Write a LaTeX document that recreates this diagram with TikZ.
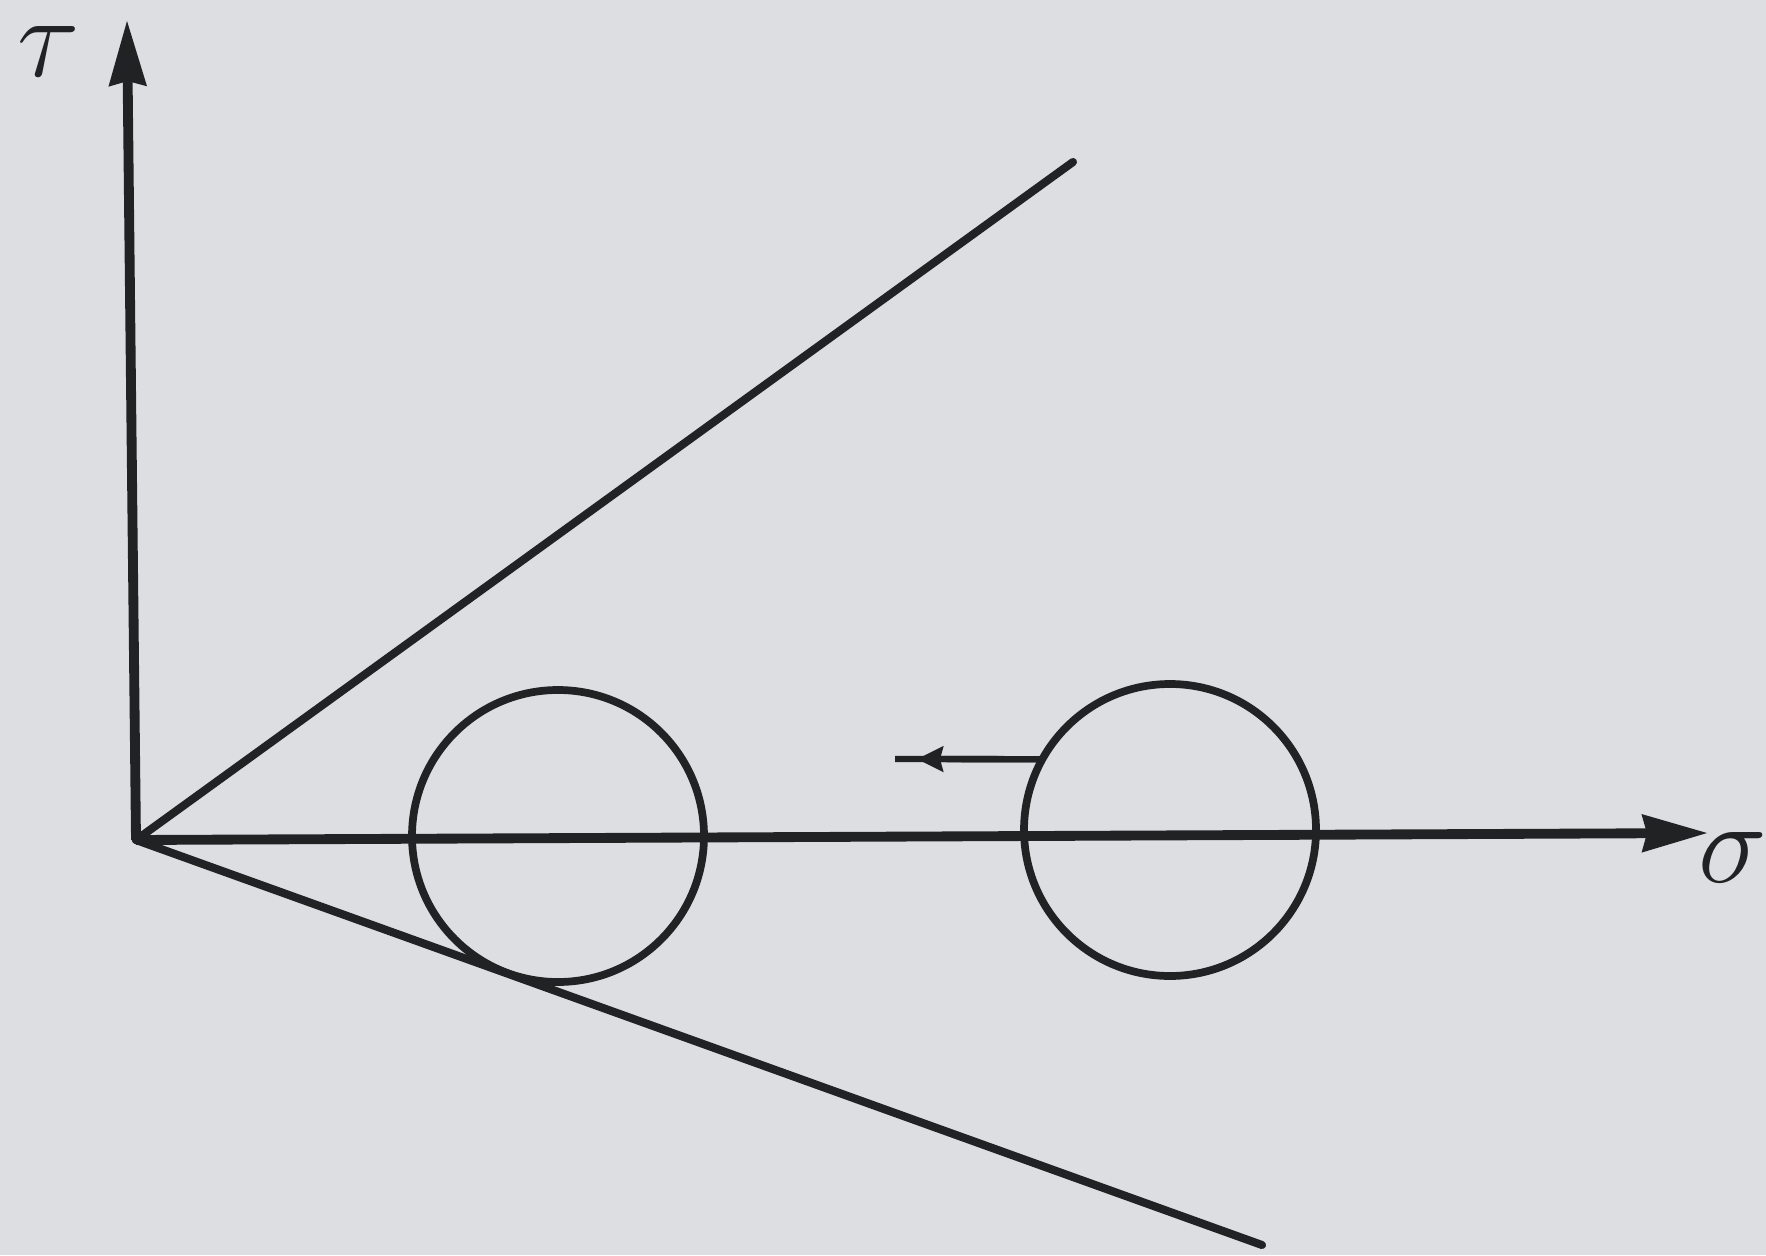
\RequirePackage{fix-cm}
\documentclass[tikz,border=0pt]{standalone}
\usepackage{xcolor}
\usepackage{tikz}
\usetikzlibrary{positioning,arrows.meta}
\definecolor{paper}{HTML}{DCDEE1}
\definecolor{ink}{HTML}{202224}

\begin{document}
\begin{tikzpicture}[
   x=0.1mm, y=-0.1mm,
   line width=2pt, draw=ink,
   axis/.style={draw=ink, line width=2.8pt,
                -{Stealth[length=6.5mm, width=3.6mm, inset=0.4mm]}},
   env/.style={draw=ink, line width=2.3pt, line cap=round},
   mohr/.style={circle, draw=ink, line width=2.2pt, minimum size=29.2mm,
                inner sep=0pt, outer sep=0pt},
   lbl/.style={text=ink, inner sep=0pt, font=\fontsize{33}{38}\selectfont},
   moveleft/.style={draw=ink, line width=1.8pt,
                 -{Stealth[length=2.6mm, width=2.5mm, inset=0.3mm]}}]
  \fill[paper] (0,0) rectangle (1766,1255);
  \useasboundingbox (0,0) rectangle (1766,1255);

  \coordinate (O) at (136,840);
  \coordinate (tautip) at (127,20);
  \coordinate (sigtip) at (1708,833);
  \coordinate (upend) at (1073,162);
  \coordinate (lowend) at (1262,1245);
  \coordinate (movetip) at (917,759);
  \coordinate (moveend) at (895,759);

  \node[lbl] (tau) at (49,52) {$\tau$};
  \node[lbl] (sig) at (1733,858) {$\sigma$};

  \node[mohr] (c1) at (558,836) {};
  \node[mohr] (c2) at (1170,830) {};

  \draw[env] (O) -- (upend);
  \draw[env] (O) -- (lowend);
  \draw[axis] (O) -- (tautip);
  \draw[axis] (O) -- (sigtip);
  \draw[draw=ink, line width=1.8pt] (c2.151) -- (moveend);
  \draw[moveleft] (c2.151) -- (movetip);
\end{tikzpicture}
\end{document}
